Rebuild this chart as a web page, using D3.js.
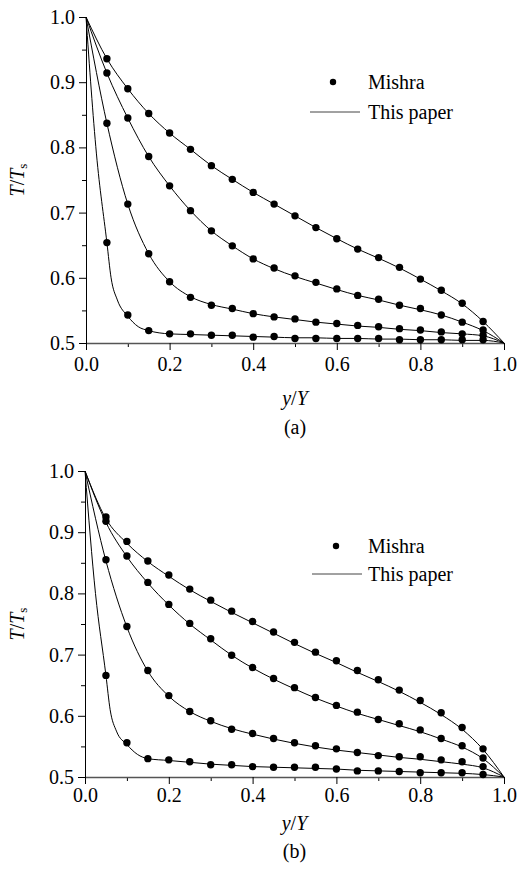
<!DOCTYPE html>
<html><head><meta charset="utf-8">
<script src="https://cdn.jsdelivr.net/npm/d3@7"></script>
<style>
html,body{margin:0;padding:0;background:#fff;}
svg text{font-family:"Liberation Serif","Times New Roman",serif;fill:#000;}
</style></head>
<body>
<svg id="chart" width="518" height="873"></svg>
<script>
// ---------- data ----------
const markX = [0.05,0.10,0.15,0.20,0.25,0.30,0.35,0.40,0.45,0.50,0.55,0.60,0.65,0.70,0.75,0.80,0.85,0.90,0.95];
const lineX = [0,0.05,0.10,0.15,0.20,0.25,0.30,0.35,0.40,0.45,0.50,0.55,0.60,0.65,0.70,0.75,0.80,0.85,0.90,0.95,1.0];
const lineX4 = [0,0.025,0.05,0.06,0.075,0.10,0.125,0.15,0.20,0.25,0.30,0.35,0.40,0.45,0.50,0.55,0.60,0.65,0.70,0.75,0.80,0.85,0.90,0.95,1.0];

// panel (a) – Mishra
const aMishra1 = [0.936,0.890,0.852,0.822,0.797,0.772,0.751,0.731,0.713,0.695,0.677,0.660,0.644,0.631,0.616,0.598,0.581,0.561,0.533];
const aMishra2 = [0.914,0.845,0.786,0.741,0.703,0.672,0.649,0.629,0.615,0.603,0.593,0.583,0.573,0.567,0.558,0.553,0.543,0.532,0.520];
const aMishra3 = [0.837,0.713,0.637,0.594,0.570,0.558,0.553,0.545,0.540,0.537,0.532,0.530,0.527,0.525,0.522,0.520,0.517,0.514,0.512];
const aMishra4 = [0.654,0.543,0.519,0.514,0.514,0.512,0.512,0.509,0.510,0.507,0.507,0.507,0.507,0.507,0.505,0.505,0.505,0.505,0.505];
// panel (a) – This paper
const aPaper1 = [1,0.936,0.890,0.852,0.822,0.797,0.772,0.751,0.731,0.713,0.695,0.677,0.660,0.644,0.630,0.615,0.598,0.580,0.560,0.533,0.5];
const aPaper2 = [1,0.914,0.845,0.786,0.741,0.703,0.672,0.649,0.629,0.614,0.602,0.592,0.582,0.573,0.566,0.558,0.551,0.543,0.532,0.519,0.5];
const aPaper3 = [1,0.837,0.713,0.637,0.594,0.571,0.559,0.552,0.545,0.540,0.536,0.532,0.529,0.526,0.524,0.521,0.519,0.516,0.514,0.511,0.5];
const aPaper4 = [1,0.790,0.654,0.600,0.566,0.541,0.525,0.519,0.514,0.513,0.512,0.511,0.510,0.509,0.508,0.508,0.507,0.507,0.506,0.506,0.505,0.505,0.504,0.504,0.5];

// panel (b) – Mishra
const bMishra1 = [0.925,0.885,0.853,0.830,0.807,0.789,0.771,0.754,0.737,0.720,0.704,0.690,0.674,0.659,0.642,0.625,0.605,0.581,0.546];
const bMishra2 = [0.918,0.861,0.818,0.782,0.751,0.726,0.699,0.679,0.661,0.646,0.630,0.617,0.606,0.594,0.587,0.577,0.563,0.551,0.531];
const bMishra3 = [0.855,0.746,0.674,0.633,0.607,0.592,0.578,0.571,0.563,0.556,0.551,0.546,0.540,0.535,0.533,0.533,0.528,0.525,0.517];
const bMishra4 = [0.666,0.556,0.530,0.528,0.525,0.520,0.520,0.517,0.516,0.516,0.516,0.513,0.510,0.510,0.509,0.507,0.507,0.507,0.504];
// panel (b) – This paper
const bPaper1 = [1,0.922,0.882,0.852,0.828,0.806,0.787,0.769,0.752,0.735,0.718,0.702,0.687,0.671,0.656,0.640,0.622,0.602,0.578,0.545,0.5];
const bPaper2 = [1,0.916,0.860,0.817,0.781,0.750,0.724,0.699,0.678,0.660,0.644,0.629,0.616,0.604,0.594,0.584,0.574,0.562,0.549,0.530,0.5];
const bPaper3 = [1,0.853,0.745,0.673,0.632,0.607,0.591,0.579,0.570,0.562,0.555,0.549,0.544,0.540,0.536,0.532,0.529,0.525,0.521,0.515,0.5];
const bPaper4 = [1,0.800,0.666,0.610,0.575,0.553,0.537,0.530,0.527,0.524,0.521,0.519,0.517,0.516,0.515,0.514,0.513,0.511,0.510,0.509,0.508,0.507,0.506,0.504,0.5];

const xTicks = [0.0,0.2,0.4,0.6,0.8,1.0];
const xMinor = [0.1,0.3,0.5,0.7,0.9];
const yTicks = [0.5,0.6,0.7,0.8,0.9,1.0];
const yMinor = [0.55,0.65,0.75,0.85,0.95];
const legendLabels = ["Mishra","This paper"];
const panelLabels = ["(a)","(b)"];

// ---------- drawing ----------
const svg = d3.select("#chart");

const panels = [
  {left:86, right:504, top:17, bottom:343, mishra:[aMishra1,aMishra2,aMishra3,aMishra4],
   paper:[aPaper1,aPaper2,aPaper3,aPaper4], label:panelLabels[0], pad:7,
   xTitleY:405, capY:434, legY:82, legY2:112, legMarkX:333, legLine:[310,360]},
  {left:85, right:504, top:471, bottom:777, mishra:[bMishra1,bMishra2,bMishra3,bMishra4],
   paper:[bPaper1,bPaper2,bPaper3,bPaper4], label:panelLabels[1], pad:4,
   xTitleY:830, capY:858, legY:546, legY2:574, legMarkX:336, legLine:[312,362]}
];

panels.forEach(p => {
  const x = d3.scaleLinear().domain([0,1]).range([p.left,p.right]);
  const y = d3.scaleLinear().domain([0.5,1]).range([p.bottom,p.top]);
  const g = svg.append("g");

  // minor ticks
  g.append("g").attr("transform",`translate(0,${p.bottom})`)
    .call(d3.axisBottom(x).tickValues(xMinor).tickSize(4).tickFormat(""))
    .call(a=>a.select(".domain").remove());
  g.append("g").attr("transform",`translate(${p.left},0)`)
    .call(d3.axisLeft(y).tickValues(yMinor).tickSize(4).tickFormat(""))
    .call(a=>a.select(".domain").remove());

  // major axes
  const xa = g.append("g").attr("transform",`translate(0,${p.bottom})`)
    .call(d3.axisBottom(x).tickValues(xTicks).tickSize(7).tickSizeOuter(0).tickPadding(p.pad).tickFormat(d3.format(".1f")));
  const ya = g.append("g").attr("transform",`translate(${p.left},0)`)
    .call(d3.axisLeft(y).tickValues(yTicks).tickSize(7).tickSizeOuter(0).tickPadding(4).tickFormat(d3.format(".1f")));
  [xa,ya].forEach(a=>{
    a.selectAll("text").attr("font-size",20).attr("font-family","Liberation Serif").attr("fill","#000");
    a.selectAll("line,path").attr("stroke","#000").attr("stroke-width",1);
  });
  xa.select(".domain").attr("stroke","#555").attr("stroke-width",1.5);
  svg.selectAll(".tick line").attr("stroke","#000");

  // curves
  const line = d3.line().x(d=>x(d[0])).y(d=>y(d[1])).curve(d3.curveMonotoneX);
  p.paper.forEach((vals,i)=>{
    const xs = i===3 ? lineX4 : lineX;
    g.append("path").datum(xs.map((xx,j)=>[xx,vals[j]]))
      .attr("d",line).attr("fill","none").attr("stroke","#000").attr("stroke-width",1);
  });
  p.mishra.forEach(vals=>{
    g.selectAll(null).data(markX.map((xx,j)=>[xx,vals[j]])).enter().append("circle")
      .attr("cx",d=>x(d[0])).attr("cy",d=>y(d[1])).attr("r",3.7).attr("fill","#000");
  });

  // axis titles
  const xt = g.append("text").attr("x",(p.left+p.right)/2).attr("y",p.xTitleY)
    .attr("text-anchor","middle").attr("font-size",20);
  xt.append("tspan").attr("font-style","italic").text("y");
  xt.append("tspan").text("/");
  xt.append("tspan").attr("font-style","italic").text("Y");

  g.append("text").attr("x",(p.left+p.right)/2).attr("y",p.capY)
    .attr("text-anchor","middle").attr("font-size",20).text(p.label);

  const cy = (p.top+p.bottom)/2;
  const yt = g.append("text").attr("transform",`translate(24,${cy}) rotate(-90)`)
    .attr("text-anchor","middle").attr("font-size",20);
  yt.append("tspan").attr("font-style","italic").text("T");
  yt.append("tspan").text("/");
  yt.append("tspan").attr("font-style","italic").text("T");
  yt.append("tspan").attr("font-size",13).attr("dy",3).text("s");

  // legend
  g.append("circle").attr("cx",p.legMarkX).attr("cy",p.legY).attr("r",3.2).attr("fill","#000");
  g.append("text").attr("x",368).attr("y",p.legY+7).attr("font-size",20).text(legendLabels[0]);
  g.append("line").attr("x1",p.legLine[0]).attr("x2",p.legLine[1]).attr("y1",p.legY2).attr("y2",p.legY2)
    .attr("stroke","#444").attr("stroke-width",1);
  g.append("text").attr("x",368).attr("y",p.legY2+7).attr("font-size",20).text(legendLabels[1]);
});
</script>
</body></html>
